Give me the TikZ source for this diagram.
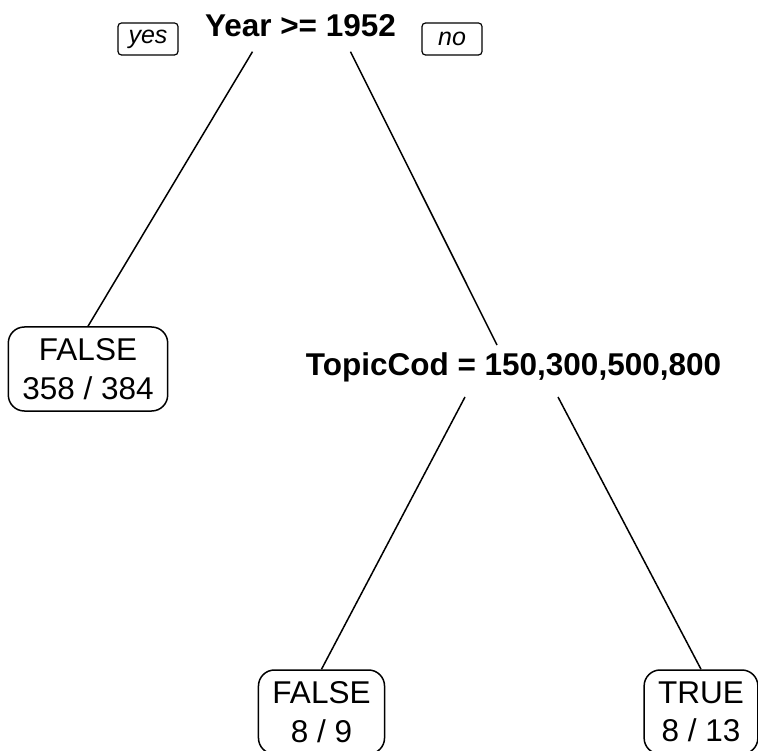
\documentclass[tikz,border=0pt]{standalone}
\usepackage{fontspec}
\setmainfont{Liberation Sans}
\usepackage{tikz}
\usetikzlibrary{calc}

\tikzset{
	splitlbl/.style={inner sep=0pt, font=\bfseries\fontsize{31.5}{36}\selectfont},
	leafbox/.style={draw, line width=1.5pt, rounded corners=16pt, align=center,
		inner xsep=14pt, minimum height=84pt, font=\fontsize{31.5}{38.5}\selectfont},
	yesno/.style={draw, line width=1.2pt, rounded corners=3.5pt, inner sep=0pt,
		minimum width=60pt, minimum height=32pt, font=\itshape\fontsize{25}{28}\selectfont},
	branch/.style={line width=1.5pt}
}

\begin{document}
\begin{tikzpicture}[x=1pt, y=-1pt]
		\useasboundingbox (0,0) rectangle (758,751);
		\clip (0,0) rectangle (758,751);
		\node[splitlbl, anchor=base] (year) at (300.5,36.7) {Year >= 1952};
		\node[yesno] (yes) at (148,39) {yes};
		\node[yesno] (no) at (452,39) {no};
		\node[leafbox] (leafA) at (88,369) {FALSE\\358 / 384};
		\node[splitlbl, anchor=base] (topic) at (513.5,375) {TopicCod = 150,300,500,800};
		\node[leafbox] (leafB) at (321.5,712) {FALSE\\8 / 9};
		\node[leafbox] (leafC) at (701,712) {TRUE\\8 / 13};
		\draw[branch] ([shift={(-48,15)}]year.base) -- (leafA.north);
		\draw[branch] ([shift={(50,15)}]year.base) -- ([shift={(-16.5,-30)}]topic.base);
		\draw[branch] ([shift={(-48.5,22)}]topic.base) -- (leafB.north);
		\draw[branch] ([shift={(44.5,22)}]topic.base) -- (leafC.north);
\end{tikzpicture}
\end{document}
